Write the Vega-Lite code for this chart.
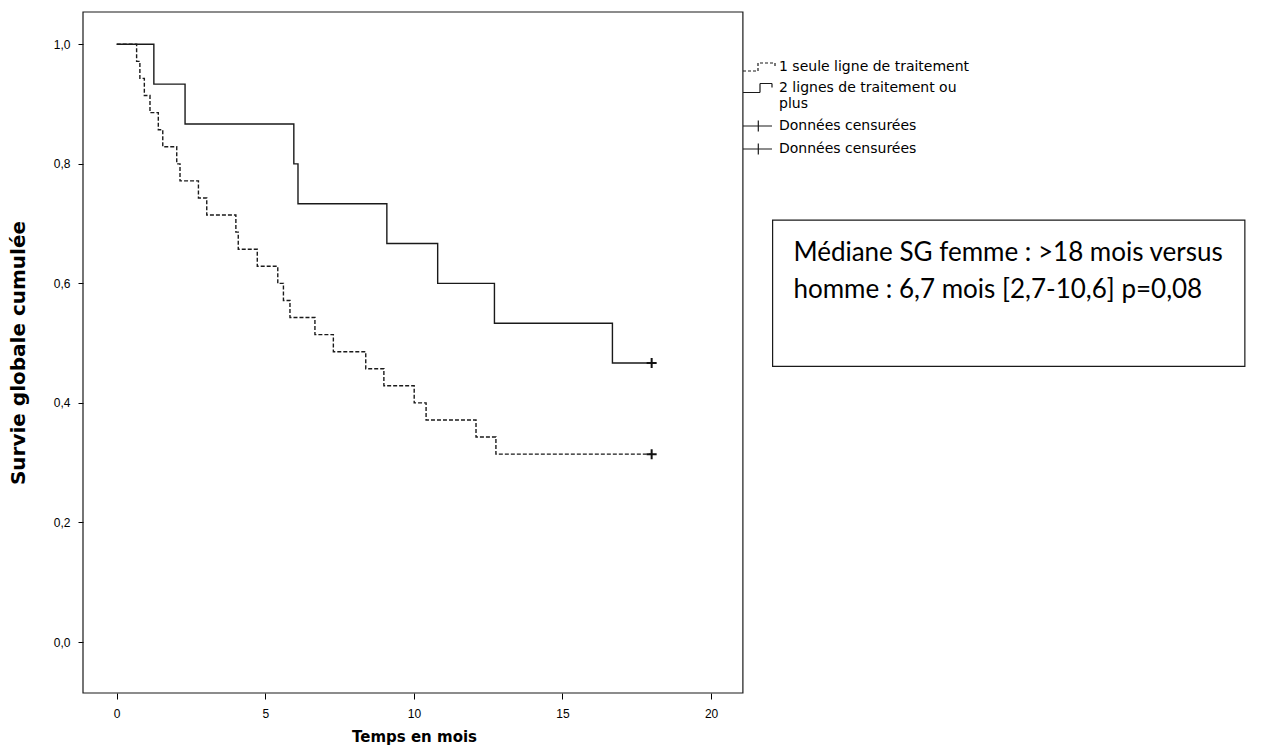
{
  "$schema": "https://vega.github.io/schema/vega-lite/v6.json",
  "width": 1167,
  "height": 681,
  "autosize": {"type": "none"},
  "padding": {"left": 83, "top": 12, "right": 24, "bottom": 58},
  "background": "white",
  "config": {
    "view": {"stroke": null},
    "font": "Liberation Sans",
    "axis": {"labelFont": "Liberation Sans", "titleFont": "DejaVu Sans", "labelColor": "black", "titleColor": "black", "tickColor": "black", "grid": false, "domain": false}
  },
  "datasets": {
    "km": [
      {"groupe": "1 seule ligne de traitement", "temps": 0, "survie": 1.0},
      {"groupe": "1 seule ligne de traitement", "temps": 0.67, "survie": 0.9714},
      {"groupe": "1 seule ligne de traitement", "temps": 0.78, "survie": 0.9429},
      {"groupe": "1 seule ligne de traitement", "temps": 0.93, "survie": 0.9143},
      {"groupe": "1 seule ligne de traitement", "temps": 1.12, "survie": 0.8857},
      {"groupe": "1 seule ligne de traitement", "temps": 1.40, "survie": 0.8571},
      {"groupe": "1 seule ligne de traitement", "temps": 1.55, "survie": 0.8286},
      {"groupe": "1 seule ligne de traitement", "temps": 2.02, "survie": 0.8},
      {"groupe": "1 seule ligne de traitement", "temps": 2.13, "survie": 0.7714},
      {"groupe": "1 seule ligne de traitement", "temps": 2.75, "survie": 0.7429},
      {"groupe": "1 seule ligne de traitement", "temps": 3.03, "survie": 0.7143},
      {"groupe": "1 seule ligne de traitement", "temps": 4.01, "survie": 0.6857},
      {"groupe": "1 seule ligne de traitement", "temps": 4.09, "survie": 0.6571},
      {"groupe": "1 seule ligne de traitement", "temps": 4.73, "survie": 0.6286},
      {"groupe": "1 seule ligne de traitement", "temps": 5.42, "survie": 0.6},
      {"groupe": "1 seule ligne de traitement", "temps": 5.61, "survie": 0.5714},
      {"groupe": "1 seule ligne de traitement", "temps": 5.83, "survie": 0.5429},
      {"groupe": "1 seule ligne de traitement", "temps": 6.67, "survie": 0.5143},
      {"groupe": "1 seule ligne de traitement", "temps": 7.29, "survie": 0.4857},
      {"groupe": "1 seule ligne de traitement", "temps": 8.38, "survie": 0.4571},
      {"groupe": "1 seule ligne de traitement", "temps": 8.99, "survie": 0.4286},
      {"groupe": "1 seule ligne de traitement", "temps": 10.01, "survie": 0.4},
      {"groupe": "1 seule ligne de traitement", "temps": 10.41, "survie": 0.3714},
      {"groupe": "1 seule ligne de traitement", "temps": 12.09, "survie": 0.3429},
      {"groupe": "1 seule ligne de traitement", "temps": 12.76, "survie": 0.3143},
      {"groupe": "1 seule ligne de traitement", "temps": 18.0, "survie": 0.3143},
      {"groupe": "2 lignes de traitement ou plus", "temps": 0, "survie": 1.0},
      {"groupe": "2 lignes de traitement ou plus", "temps": 1.25, "survie": 0.9333},
      {"groupe": "2 lignes de traitement ou plus", "temps": 2.30, "survie": 0.8667},
      {"groupe": "2 lignes de traitement ou plus", "temps": 5.96, "survie": 0.8},
      {"groupe": "2 lignes de traitement ou plus", "temps": 6.10, "survie": 0.7333},
      {"groupe": "2 lignes de traitement ou plus", "temps": 9.09, "survie": 0.6667},
      {"groupe": "2 lignes de traitement ou plus", "temps": 10.80, "survie": 0.6},
      {"groupe": "2 lignes de traitement ou plus", "temps": 12.71, "survie": 0.5333},
      {"groupe": "2 lignes de traitement ou plus", "temps": 16.68, "survie": 0.4667},
      {"groupe": "2 lignes de traitement ou plus", "temps": 18.0, "survie": 0.4667}
    ],
    "censures": [
      {"legende": "Données censurées (1 seule ligne)", "temps": 18.0, "survie": 0.3143},
      {"legende": "Données censurées (2 lignes)", "temps": 18.0, "survie": 0.4667}
    ],
    "annotation": [
      {"texte": "Médiane SG femme : >18 mois versus homme : 6,7 mois [2,7-10,6] p=0,08"}
    ]
  },
  "layer": [
    {
      "data": {"name": "annotation"},
      "mark": {"type": "rect", "fill": null, "stroke": "#1a1a1a", "strokeWidth": 1.2},
      "encoding": {
        "x": {"datum": -1.134, "type": "quantitative"},
        "x2": {"datum": 21.07},
        "y": {"datum": -0.0853, "type": "quantitative"},
        "y2": {"datum": 1.054}
      }
    },
    {
      "data": {"name": "annotation"},
      "mark": {"type": "rect", "fill": null, "stroke": "#1a1a1a", "strokeWidth": 1.2},
      "encoding": {
        "x": {"datum": 22.07, "type": "quantitative"},
        "x2": {"datum": 37.96},
        "y": {"datum": 0.4613, "type": "quantitative"},
        "y2": {"datum": 0.7058}
      }
    },
    {
      "data": {"name": "annotation"},
      "transform": [{"calculate": "split(datum.texte, ' versus ')", "as": "parts"}, {"calculate": "[datum.parts[0] + ' versus', datum.parts[1]]", "as": "lignes"}],
      "mark": {"type": "text", "font": "Lato", "fontSize": 26, "lineHeight": 37, "align": "left", "baseline": "middle", "color": "black"},
      "encoding": {
        "x": {"datum": 22.77, "type": "quantitative"},
        "y": {"datum": 0.6508, "type": "quantitative"},
        "text": {"field": "lignes"}
      }
    },
    {
      "data": {"name": "km"},
      "transform": [{"filter": "datum.groupe === '1 seule ligne de traitement'"}],
      "mark": {"type": "line", "interpolate": "step-after", "color": "#1a1a1a", "strokeWidth": 1.4, "strokeDash": [4, 2]},
      "encoding": {
        "x": {
          "field": "temps", "type": "quantitative",
          "scale": {"domain": [-1.134, 38.133], "nice": false, "zero": false},
          "axis": {"values": [0, 5, 10, 15, 20], "title": "Temps en mois", "titleFontSize": 15, "titleFontWeight": "bold", "titleX": 331, "titlePadding": 10, "labelFontSize": 12, "tickSize": 6, "labelPadding": 9, "labelFlush": false}
        },
        "y": {
          "field": "survie", "type": "quantitative",
          "scale": {"domain": [-0.0853, 1.054], "nice": false, "zero": false},
          "axis": {"values": [0, 0.2, 0.4, 0.6, 0.8, 1.0], "labelExpr": "replace(format(datum.value, '.1f'), '.', ',')", "title": "Survie globale cumulée", "titleFontSize": 20, "titleFontWeight": "bold", "titlePadding": 25, "labelFontSize": 12, "tickSize": 5, "labelPadding": 8}
        }
      }
    },
    {
      "data": {"name": "km"},
      "transform": [{"filter": "datum.groupe === '2 lignes de traitement ou plus'"}],
      "mark": {"type": "line", "interpolate": "step-after", "color": "#1a1a1a", "strokeWidth": 1.4},
      "encoding": {
        "x": {"field": "temps", "type": "quantitative"},
        "y": {"field": "survie", "type": "quantitative"}
      }
    },
    {
      "data": {"name": "censures"},
      "mark": {"type": "point", "shape": "M-1,0H1M0,-1V1", "filled": false, "stroke": "#111111", "strokeWidth": 2, "size": 100, "opacity": 1},
      "encoding": {
        "x": {"field": "temps", "type": "quantitative"},
        "y": {"field": "survie", "type": "quantitative"}
      }
    },
    {
      "data": {"name": "censures"},
      "mark": {"type": "point", "filled": false, "color": "#1a1a1a", "strokeWidth": 1.2, "opacity": 0},
      "encoding": {
        "x": {"field": "temps", "type": "quantitative"},
        "y": {"field": "survie", "type": "quantitative"},
        "shape": {
          "field": "legende", "type": "nominal",
          "scale": {
            "domain": ["1 seule ligne de traitement", "2 lignes de traitement ou plus", "Données censurées (1 seule ligne)", "Données censurées (2 lignes)"],
            "range": ["M-1.4,0.8H1.6V-0.8H5V-0.2", "M-1.4,0.9H2V-0.9H4.4V-0.1", "M-1.4,0H4.4M1.66,-1.1V1.1", "M-1.4,0H4.4M1.66,-1.1V1.1"]
          },
          "legend": {
            "title": null,
            "orient": "none",
            "legendX": 660,
            "legendY": 48,
            "padding": 0,
            "symbolSize": 100,
            "symbolStrokeColor": "#1a1a1a",
            "symbolStrokeWidth": 1.2,
            "symbolFillColor": "transparent",
            "symbolOpacity": 1,
            "symbolOffset": 0,
            "labelFont": "DejaVu Sans",
            "labelFontSize": 14,
            "labelColor": "black",
            "labelOffset": 22,
            "labelLimit": 400,
            "rowPadding": 7,
            "labelExpr": "indexof(datum.value, 'Données') === 0 ? 'Données censurées' : datum.value === '2 lignes de traitement ou plus' ? ['2 lignes de traitement ou', 'plus'] : datum.value",
            "encode": {"labels": {"lineHeight": {"value": 15}}}
          }
        },
        "strokeDash": {
          "field": "legende", "type": "nominal",
          "scale": {
            "domain": ["1 seule ligne de traitement", "2 lignes de traitement ou plus", "Données censurées (1 seule ligne)", "Données censurées (2 lignes)"],
            "range": [[3, 2], [1, 0], [1, 0], [1, 0]]
          },
          "legend": {
            "title": null,
            "orient": "none",
            "legendX": 660,
            "legendY": 48,
            "padding": 0,
            "symbolSize": 100,
            "symbolStrokeColor": "#1a1a1a",
            "symbolStrokeWidth": 1.2,
            "symbolFillColor": "transparent",
            "symbolOpacity": 1,
            "symbolOffset": 0,
            "labelFont": "DejaVu Sans",
            "labelFontSize": 14,
            "labelColor": "black",
            "labelOffset": 22,
            "labelLimit": 400,
            "rowPadding": 7,
            "labelExpr": "indexof(datum.value, 'Données') === 0 ? 'Données censurées' : datum.value === '2 lignes de traitement ou plus' ? ['2 lignes de traitement ou', 'plus'] : datum.value",
            "encode": {"labels": {"lineHeight": {"value": 15}}}
          }
        }
      }
    }
  ]
}
